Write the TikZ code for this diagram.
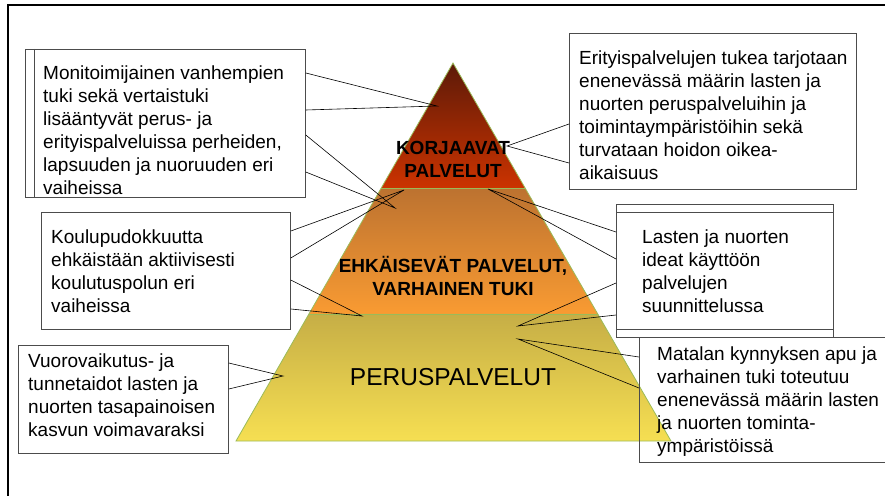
\documentclass[tikz,border=0pt]{standalone}
\usepackage{fontspec}
\setmainfont{Liberation Sans}
\usetikzlibrary{calc}
\definecolor{edgegreen}{HTML}{9BBB59}
\definecolor{korjtop}{HTML}{5C1A08}
\definecolor{korjbot}{HTML}{CC3300}
\definecolor{ehktop}{HTML}{BC7230}
\definecolor{ehkbot}{HTML}{F99B32}
\definecolor{perustop}{HTML}{C6AE46}
\definecolor{perusbot}{HTML}{F6DF52}

\begin{document}
\begin{tikzpicture}[x=1pt,y=-1pt,
        callout/.style={draw=black!70,line width=0.8pt,fill=white,inner sep=0pt,anchor=north west},
        wedge/.style={black,line width=0.6pt},
        boxtext/.style={anchor=north west,inner sep=0pt,align=left,font=\fontsize{19}{23}\selectfont},
        layertext/.style={inner sep=0pt,align=center,font=\fontsize{19}{23}\selectfont\bfseries},
        pyredge/.style={draw=edgegreen,line width=0.8pt}]
        \useasboundingbox (0,0) rectangle (885,495);
        \draw [line width=1.5pt] (8,5) rectangle (900,510);
        % pyramid
        \coordinate (top) at (453,63);
        \coordinate (bl) at (236,441);
        \coordinate (br) at (671,441);
        \coordinate (l1) at ($(top)!0.331!(bl)$);
        \coordinate (r1) at ($(top)!0.331!(br)$);
        \coordinate (l2) at ($(top)!0.664!(bl)$);
        \coordinate (r2) at ($(top)!0.664!(br)$);
        \shade [top color=korjtop,bottom color=korjbot] (top) -- (r1) -- (l1) -- cycle;
        \shade [top color=ehktop,bottom color=ehkbot] (l1) -- (r1) -- (r2) -- (l2) -- cycle;
        \shade [top color=perustop,bottom color=perusbot] (l2) -- (r2) -- (br) -- (bl) -- cycle;
        \draw [pyredge] (top) -- (br) -- (bl) -- cycle;
        \draw [pyredge] (l1) -- (r1);
        \draw [pyredge] (l2) -- (r2);
        \node [layertext] (korjaavat) at (453,159) {KORJAAVAT\\PALVELUT};
        \node [layertext] (ehkaisevat) at (453,276) {EHKÄISEVÄT PALVELUT,\\VARHAINEN TUKI};
        \node [inner sep=0pt,font=\fontsize{24.5}{28}\selectfont] (perus) at (453,377) {PERUSPALVELUT};
        % callout tips
        \coordinate (t1) at (437,106);
        \coordinate (t2) at (395,208);
        \coordinate (t3) at (404,190);
        \coordinate (t4) at (362,316);
        \coordinate (t5) at (283,376);
        \coordinate (t6) at (507,146);
        \coordinate (t7) at (488,189);
        \coordinate (t8) at (518,326);
        \coordinate (t9) at (518,339);
        % boxes
        \node [callout,minimum width=280pt,minimum height=148pt] (perhe) at (25,49) {};
        \draw [draw=black!70,line width=0.8pt] ([xshift=9pt]perhe.north west) -- ([xshift=9pt]perhe.south west);
        \node [boxtext] (perhetxt) at (43,65.5) {Monitoimijainen vanhempien\\tuki sekä vertaistuki\\lisääntyvät perus- ja\\erityispalveluissa perheiden,\\lapsuuden ja nuoruuden eri\\vaiheissa};
        \node [callout,minimum width=249pt,minimum height=117pt] (koulu) at (41,212) {};
        \node [boxtext] (koulutxt) at (51,229.6) {Koulupudokkuutta\\ehkäistään aktiivisesti\\koulutuspolun eri\\vaiheissa};
        \node [callout,minimum width=210pt,minimum height=108pt] (vuoro) at (18,345) {};
        \node [boxtext] (vuorotxt) at (28,354) {Vuorovaikutus- ja\\tunnetaidot lasten ja\\nuorten tasapainoisen\\kasvun voimavaraksi};
        \node [callout,minimum width=287pt,minimum height=156pt] (erit) at (569,33) {};
        \node [boxtext] (erittxt) at (579,50.5) {Erityispalvelujen tukea tarjotaan\\enenevässä määrin lasten ja\\nuorten peruspalveluihin ja\\toimintaympäristöihin sekä\\turvataan hoidon oikea-\\aikaisuus};
        \node [callout,minimum width=217pt,minimum height=133pt] (lasten) at (616,204) {};
        \draw [draw=black!70,line width=0.8pt] ([yshift=-8pt]lasten.north west) -- ([yshift=-8pt]lasten.north east);
        \draw [draw=black!70,line width=0.8pt] ([yshift=8pt]lasten.south west) -- ([yshift=8pt]lasten.south east);
        \node [boxtext] (lastentxt) at (642,229.6) {Lasten ja nuorten\\ideat käyttöön\\palvelujen\\suunnittelussa};
        \node [callout,fill=none,minimum width=260pt,minimum height=125pt] (matala) at (639,337) {};
        \node [boxtext] (matalatxt) at (657,346.5) {Matalan kynnyksen apu ja\\varhainen tuki toteutuu\\enenevässä määrin lasten\\ja nuorten tominta-\\ympäristöissä};
        % wedges
        \draw [wedge] ([yshift=-24pt]perhe.north east) -- (t1) -- ([yshift=-61pt]perhe.north east);
        \draw [wedge] ([yshift=-86pt]perhe.north east) -- (t2) -- ([yshift=-123pt]perhe.north east);
        \draw [wedge] ([yshift=-19pt]koulu.north east) -- (t3) -- ([yshift=-46pt]koulu.north east);
        \draw [wedge] ([yshift=-68pt]koulu.north east) -- (t4) -- ([yshift=-97pt]koulu.north east);
        \draw [wedge] ([yshift=-18pt]vuoro.north east) -- (t5) -- ([yshift=-44pt]vuoro.north east);
        \draw [wedge] ([yshift=-91pt]erit.north west) -- (t6) -- ([yshift=-130pt]erit.north west);
        \draw [wedge] ([yshift=-28pt]lasten.north west) -- (t7) -- ([yshift=-55pt]lasten.north west);
        \draw [wedge] ([yshift=-79pt]lasten.north west) -- (t8) -- ([yshift=-111pt]lasten.north west);
        \draw [wedge] ([yshift=-20pt]matala.north west) -- (t9) -- ([yshift=-51pt]matala.north west);
\end{tikzpicture}
\end{document}
